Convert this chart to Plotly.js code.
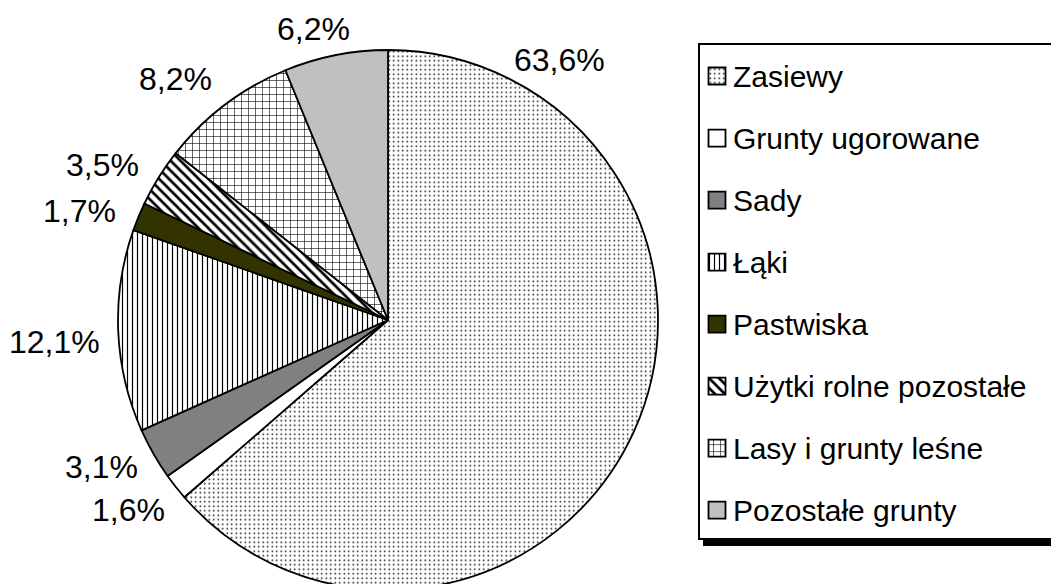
<!DOCTYPE html>
<html><head><meta charset="utf-8">
<script src="https://cdn.plot.ly/plotly-3.0.1.min.js"></script>
<style>html,body{margin:0;padding:0;overflow:hidden;background:#fff}#chart{width:1051px;height:590px}</style>
</head><body><div id="chart"></div>
<script>
// Data
const categories = ['Zasiewy','Grunty ugorowane','Sady','Łąki','Pastwiska','Użytki rolne pozostałe','Lasy i grunty leśne','Pozostałe grunty'];
const shares = [63.6, 1.6, 3.1, 12.1, 1.7, 3.5, 8.2, 6.2];

// Styles
const sliceColors = ['#ffffff','#ffffff','#808080','#ffffff','#333300','#ffffff','#ffffff','#c0c0c0'];
const patternShapes = ['.','','','|','','\\','+',''];
const patternSizes = [4.5,8,8,5,8,7,7,8];
const patternSolidity = [0.1,0.3,0.3,0.24,0.3,0.38,0.16,0.3];
const patternBg = ['#ffffff','#ffffff','#808080','#ffffff','#333300','#ffffff','#ffffff','#c0c0c0'];
// label centres in px (layout only)
const labelPos = [[559,60],[128,510],[101,467],[54,342],[79,211],[102,165],[175,79],[313,29]];

const W = 1051, H = 590, T = 50, PH = 540;
const px = x => x / W;
const py = y => (T + PH - y) / PH;
const FONT = '"Liberation Sans", Arial, sans-serif';

const trace = {
  type: 'pie',
  labels: categories,
  values: shares,
  sort: false,
  direction: 'clockwise',
  rotation: 0,
  textinfo: 'none',
  hoverinfo: 'label+percent',
  domain: {x: [(388-270)/W, (388+270)/W], y: [0, 1]},
  marker: {
    colors: sliceColors,
    line: {color: '#000000', width: 1.8},
    pattern: {
      shape: patternShapes,
      size: patternSizes,
      solidity: patternSolidity,
      fgcolor: '#000000',
      bgcolor: patternBg,
      fillmode: 'replace'
    }
  }
};

const annotations = shares.map((v, i) => ({
  xref: 'paper', yref: 'paper',
  x: px(labelPos[i][0]), y: py(labelPos[i][1]),
  xanchor: 'center', yanchor: 'middle',
  text: v.toFixed(1).replace('.', ',') + '%',
  showarrow: false,
  font: {family: FONT, size: 32, color: '#000000'}
}));

const layout = {
  width: W, height: H,
  margin: {l: 0, r: 0, t: T, b: 0, autoexpand: false},
  paper_bgcolor: '#ffffff',
  showlegend: true,
  legend: {
    x: px(698), y: py(43), xanchor: 'left', yanchor: 'top',
    bgcolor: '#ffffff', bordercolor: '#000000', borderwidth: 2,
    font: {family: FONT, size: 45.4, color: '#000000'},
    traceorder: 'normal',
    maxheight: 2000
  },
  shapes: [{
    type: 'rect', xref: 'paper', yref: 'paper', layer: 'below',
    x0: px(703), x1: px(1200), y0: py(546), y1: py(48),
    fillcolor: '#000000', line: {width: 0}
  }],
  annotations: annotations
};

Plotly.newPlot('chart', [trace], layout, {displayModeBar: false, staticPlot: true}).then(gd => {
  const leg = gd.querySelector('.legend');
  const bg = leg && leg.querySelector('rect.bg');
  if (bg) bg.setAttribute('height', 495);
  gd.querySelectorAll('.legend .traces').forEach(tr => {
    const m = /translate\(\s*([-\d.]+)[ ,]+([-\d.]+)\s*\)/.exec(tr.getAttribute('transform') || '');
    if (m) tr.setAttribute('transform', 'translate(' + m[1] + ',' + (parseFloat(m[2]) - 5) + ')');
    const t = tr.querySelector('text.legendtext');
    if (t) { t.style.fontSize = '30px'; t.setAttribute('x', 33); t.setAttribute('y', 10.7); }
    const p = tr.querySelector('path.legendpie');
    if (p) { p.setAttribute('d', 'M8.5,8.5H-8.5V-8.5H8.5Z'); p.setAttribute('transform', 'translate(17,0)'); }
  });
});
</script>
</body></html>
